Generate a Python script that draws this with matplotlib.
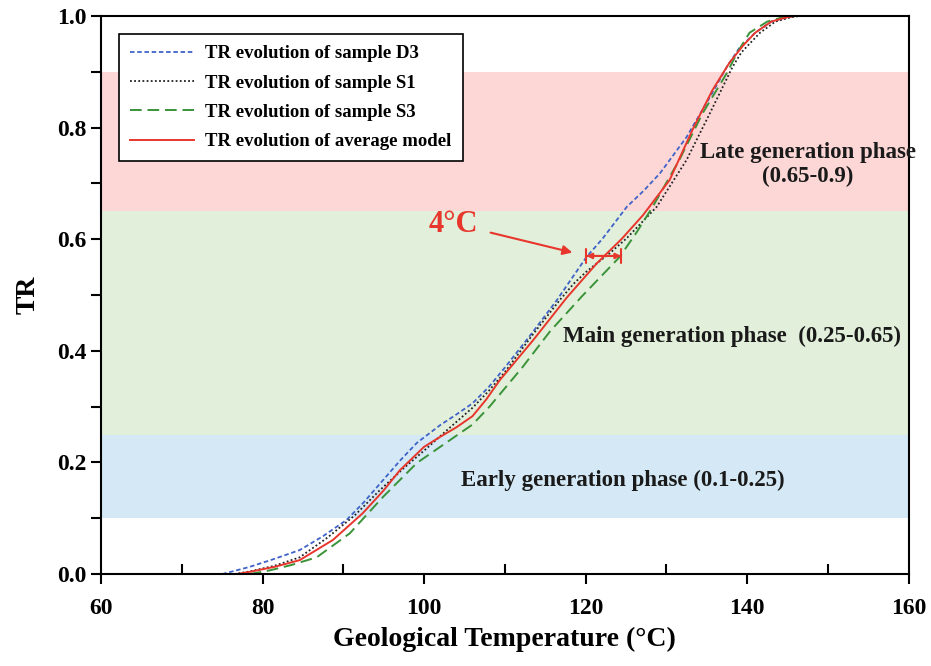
import numpy as np
import matplotlib
matplotlib.use("Agg")
import matplotlib.pyplot as plt
from matplotlib.ticker import MultipleLocator, FormatStrFormatter

plt.rcParams['font.family'] = ['Liberation Serif', 'DejaVu Serif']
plt.rcParams['font.weight'] = 'bold'

# TR curves
d3_t = [75.0, 78.3, 81.0, 84.6, 87.5, 90.4, 92.5, 94.9, 97.0, 99.1, 102.0, 104.0, 106.0, 108.0,
        110.0, 113.0, 116.4, 120.1, 122.1, 125.1, 127.2, 129.2, 132.5, 135.4, 137.5, 139.0,
        141.0, 143.0, 145.0, 146.0]
d3_tr = [0.0, 0.0125, 0.025, 0.043, 0.068, 0.097, 0.128, 0.168, 0.203, 0.235, 0.267, 0.286,
         0.306, 0.335, 0.37, 0.425, 0.49, 0.568, 0.601, 0.658, 0.687, 0.718, 0.783, 0.855,
         0.909, 0.942, 0.97, 0.99, 0.998, 1.0]

s1_t = [76.5, 78.5, 81.5, 84.6, 88.0, 91.4, 94.5, 97.5, 100.3, 103.0, 106.0, 108.0, 110.0,
        113.5, 116.8, 118.5, 120.1, 121.5, 123.0, 125.1, 128.8, 132.5, 135.4, 138.2, 139.3,
        141.6, 143.5, 145.5, 146.5]
s1_tr = [0.0, 0.005, 0.015, 0.03, 0.065, 0.105, 0.15, 0.19, 0.225, 0.26, 0.298, 0.328, 0.362,
         0.43, 0.491, 0.52, 0.542, 0.558, 0.575, 0.602, 0.658, 0.742, 0.826, 0.909, 0.935,
         0.97, 0.99, 0.998, 1.0]

s3_t = [78.4, 81.0, 83.5, 86.7, 90.8, 94.9, 99.1, 103.2, 106.0, 108.1, 112.2, 115.6, 119.5,
        124.2, 126.3, 128.3, 131.6, 134.5, 137.5, 138.8, 140.3, 142.5, 144.5, 146.0]
s3_tr = [0.0, 0.007, 0.016, 0.03, 0.073, 0.138, 0.199, 0.24, 0.268, 0.3, 0.371, 0.435, 0.497,
         0.568, 0.612, 0.658, 0.742, 0.826, 0.898, 0.935, 0.97, 0.99, 0.998, 1.0]

avg_t = [76.8, 78.4, 81.5, 84.6, 88.7, 92.4, 95.0, 97.0, 100.0, 102.0, 104.0, 106.0, 107.7,
         109.4, 113.5, 117.7, 121.4, 124.5, 127.1, 130.4, 133.3, 135.7, 137.8, 139.5, 141.0,
         143.0, 145.0, 146.0]
avg_tr = [0.0, 0.004, 0.013, 0.025, 0.061, 0.109, 0.15, 0.186, 0.228, 0.246, 0.263, 0.283,
          0.313, 0.348, 0.419, 0.496, 0.557, 0.601, 0.643, 0.706, 0.798, 0.867, 0.916, 0.947,
          0.97, 0.99, 0.998, 1.0]

# phase bands
bands = [(0.1, 0.25), (0.25, 0.65), (0.65, 0.9)]
band_colors = ['#d4e9f5', '#e2efda', '#fdd6d6']

fig = plt.figure(figsize=(9.31, 6.66), dpi=100)
ax = fig.add_axes([0.1085, 0.138, 0.8675, 0.838])

for (lo, hi), c in zip(bands, band_colors):
    ax.axhspan(lo, hi, color=c, lw=0, zorder=0)

ax.plot(d3_t, d3_tr, color='#3f63c8', lw=1.3, ls=(0, (2.5, 1.5)), label='TR evolution of sample D3')
ax.plot(s1_t, s1_tr, color='#222222', lw=1.3, ls=(0, (1, 1.3)), label='TR evolution of sample S1')
ax.plot(s3_t, s3_tr, color='#3a9338', lw=1.4, ls=(0, (6, 3)), label='TR evolution of sample S3')
ax.plot(avg_t, avg_tr, color='#e8362c', lw=1.4, label='TR evolution of average model')

ax.set_xlim(60, 160)
ax.set_ylim(0, 1.0)
ax.xaxis.set_major_locator(MultipleLocator(20))
ax.xaxis.set_minor_locator(MultipleLocator(10))
ax.yaxis.set_major_locator(MultipleLocator(0.2))
ax.yaxis.set_minor_locator(MultipleLocator(0.1))
ax.yaxis.set_major_formatter(FormatStrFormatter('%.1f'))
ax.tick_params(axis='x', which='major', direction='out', length=7, width=1.5, labelsize=17, pad=10)
ax.tick_params(axis='x', which='minor', direction='in', length=7, width=1.5)
ax.tick_params(axis='y', which='both', direction='out', length=7, width=1.5, labelsize=17)
for s in ax.spines.values():
    s.set_linewidth(1.5)

ax.set_xlabel('Geological Temperature (°C)', fontsize=20, fontweight='bold', labelpad=6)
ax.set_ylabel('TR', fontsize=20, fontweight='bold', labelpad=12)

txt = dict(ha='center', va='center', fontsize=16.5, fontweight='bold', color='#1a1a1a')
ax.text(147.5, 0.756, 'Late generation phase', **txt)
ax.text(147.5, 0.713, '(0.65-0.9)', **txt)
ax.text(138.1, 0.425, 'Main generation phase  (0.25-0.65)', **txt)
ax.text(124.6, 0.168, 'Early generation phase (0.1-0.25)', **txt)

# 4 degC offset annotation
red = '#e8362c'
ax.text(103.6, 0.627, '4°C', ha='center', va='center', fontsize=22, fontweight='bold', color=red)
ax.annotate('', xy=(118.7, 0.575), xytext=(107.9, 0.613),
            arrowprops=dict(arrowstyle='-|>', color=red, lw=1.5, mutation_scale=14))
ax.annotate('', xy=(124.4, 0.57), xytext=(120.1, 0.57),
            arrowprops=dict(arrowstyle='<|-|>', color=red, lw=1.5, mutation_scale=8,
                            shrinkA=0, shrinkB=0))
ax.annotate('', xy=(124.4, 0.57), xytext=(120.1, 0.57),
            arrowprops=dict(arrowstyle='|-|', color=red, lw=1.5, mutation_scale=5,
                            shrinkA=0, shrinkB=0))

leg = ax.legend(loc='upper left', bbox_to_anchor=(0.022, 0.968), borderaxespad=0,
                fontsize=13.5, frameon=True, fancybox=False, edgecolor='black',
                handlelength=3.4, borderpad=0.6, labelspacing=0.65, handletextpad=0.6)
leg.get_frame().set_linewidth(1.2)
leg.get_frame().set_facecolor('white')
leg.get_frame().set_alpha(1)

fig.savefig('out.png', dpi=100)
